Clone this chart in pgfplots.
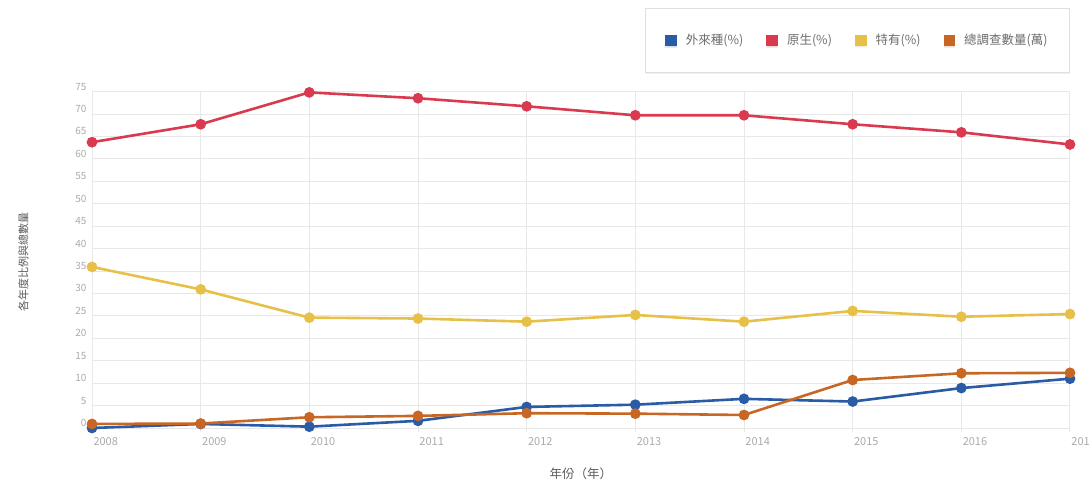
\documentclass[border=0pt]{standalone}
\usepackage{pgfplots}
\pgfplotsset{compat=1.18}
\usepackage{fontspec}
\setmainfont{Noto Sans CJK TC}
\usetikzlibrary{shadows}
\definecolor{cblue}{RGB}{42,92,165}
\definecolor{cred}{RGB}{217,58,80}
\definecolor{cyellow}{RGB}{231,192,72}
\definecolor{corange}{RGB}{200,102,36}
\definecolor{tickgray}{RGB}{170,170,170}
\definecolor{titlegray}{RGB}{90,90,90}
\definecolor{leggray}{RGB}{110,110,110}
\begin{document}
\begin{tikzpicture}[x=1pt,y=1pt]
\path[use as bounding box] (0,0) rectangle (1089,484);
\begin{axis}[
  at={(92pt,51.5pt)}, anchor=south west,
  scale only axis, width=978pt, height=341pt,
  xmin=2008, xmax=2017, ymin=-1, ymax=75,
  xtick={2008,...,2017}, ytick={0,5,...,75},
  axis line style={draw=none},
  major tick length=0pt,
  grid=major, grid style={draw=gray!18, line width=0.8pt},
  /pgf/number format/assume math mode=true,
  xticklabel={\pgfmathprintnumber[1000 sep={}]{\tick}},
  xticklabel style={font=\fontsize{11}{12}\selectfont, text=tickgray, anchor=north west, xshift=-2pt, yshift=-1pt},
  yticklabel style={font=\fontsize{10}{11}\selectfont, text=tickgray, yshift=5pt, xshift=-2pt},
  xlabel={年份（年）}, xlabel style={font=\fontsize{12.5}{14}\selectfont, text=titlegray, yshift=-16pt},
  ylabel={各年度比例與總數量}, ylabel style={font=\fontsize{11}{13}\selectfont, text=titlegray, yshift=40pt},
  every axis plot/.append style={line width=2.6pt, mark=*, mark size=4pt},
  legend columns=4,
  legend image code/.code={\fill[#1] (0pt,-4.5pt) rectangle (9pt,4.5pt);},
  legend style={at={(0.5654,1.2449)}, anchor=north west, draw=gray!25, line width=0.8pt,
    font=\fontsize{12.5}{15}\selectfont, text=leggray,
    inner xsep=20pt, inner ysep=24pt,
    drop shadow={opacity=0.12, shadow xshift=0pt, shadow yshift=-2pt},
    /tikz/every odd column/.append style={column sep=7pt},
    /tikz/every even column/.append style={column sep=21pt}},
  clip=false,
]
\addplot[color=cblue] coordinates {(2008,0) (2009,0.9) (2010,0.3) (2011,1.6) (2012,4.7) (2013,5.2) (2014,6.5) (2015,5.9) (2016,8.9) (2017,11.0)};
\addlegendentry{外來種(\%)}
\addplot[color=cred] coordinates {(2008,63.7) (2009,67.7) (2010,74.8) (2011,73.5) (2012,71.7) (2013,69.7) (2014,69.7) (2015,67.7) (2016,65.9) (2017,63.2)};
\addlegendentry{原生(\%)}
\addplot[color=cyellow] coordinates {(2008,35.9) (2009,30.9) (2010,24.6) (2011,24.4) (2012,23.7) (2013,25.2) (2014,23.7) (2015,26.1) (2016,24.8) (2017,25.4)};
\addlegendentry{特有(\%)}
\addplot[color=corange] coordinates {(2008,0.9) (2009,1.0) (2010,2.4) (2011,2.7) (2012,3.3) (2013,3.2) (2014,2.9) (2015,10.7) (2016,12.2) (2017,12.3)};
\addlegendentry{總調查數量(萬)}
\end{axis}
\end{tikzpicture}
\end{document}
